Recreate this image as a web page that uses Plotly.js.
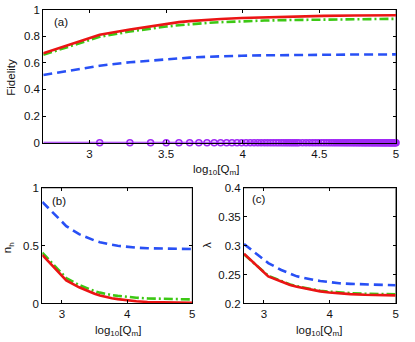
<!DOCTYPE html>
<html>
<head>
<meta charset="utf-8">
<script src="https://cdn.plot.ly/plotly-3.0.1.min.js"></script>
<style>
  html, body { margin: 0; padding: 0; background: #fff; }
  #chart { width: 415px; height: 342px; }
</style>
</head>
<body>
<div id="chart"></div>
<script>
// sample positions, log10[Qm]
var xs = [2.699, 3.067, 3.264, 3.399, 3.501, 3.584, 3.654, 3.767, 3.856, 3.993, 4.142, 4.3125, 4.53, 4.73, 5.0];

// (a) fidelity
var fidRed   = [0.672, 0.81, 0.85, 0.875, 0.893, 0.905, 0.913, 0.923, 0.929, 0.936, 0.942, 0.947, 0.952, 0.955, 0.957];
var fidGreen = [0.66, 0.795, 0.835, 0.858, 0.872, 0.882, 0.89, 0.899, 0.905, 0.912, 0.917, 0.921, 0.925, 0.928, 0.93];
var fidBlue  = [0.508, 0.578, 0.604, 0.618, 0.627, 0.634, 0.639, 0.645, 0.649, 0.653, 0.656, 0.659, 0.661, 0.662, 0.663];

// purple markers on zero line (first one sits under the y axis)
var purpleX = [3.067, 3.264, 3.399, 3.501, 3.584, 3.654, 3.714, 3.767, 3.814, 3.856, 3.895, 3.930, 3.963, 3.993,
  4.022, 4.049, 4.074, 4.098, 4.120, 4.142, 4.162, 4.182, 4.200, 4.218, 4.235, 4.252, 4.268, 4.283, 4.298, 4.3125,
  4.326, 4.340, 4.353, 4.366, 4.390, 4.413, 4.435, 4.456, 4.475, 4.494, 4.513, 4.530, 4.547, 4.563, 4.579, 4.594,
  4.608, 4.622, 4.636, 4.649, 4.662, 4.674, 4.686, 4.698, 4.710, 4.721, 4.732, 4.743, 4.753, 4.763, 4.773, 4.783,
  4.792, 4.801, 4.810, 4.819, 4.828, 4.837, 4.845, 4.853, 4.861, 4.869, 4.877, 4.885, 4.892, 4.900, 4.907, 4.914,
  4.921, 4.928, 4.934, 4.941, 4.948, 4.955, 4.961, 4.967, 4.973, 4.979, 4.985, 4.991, 4.997, 5.0];
var purpleY = purpleX.map(function () { return 0; });

// (b) n_h
var nhRed   = [0.42, 0.2, 0.14, 0.105, 0.085, 0.07, 0.06, 0.046, 0.038, 0.027, 0.019, 0.013, 0.009, 0.007, 0.006];
var nhGreen = [0.44, 0.22, 0.16, 0.127, 0.107, 0.094, 0.085, 0.073, 0.066, 0.057, 0.05, 0.044, 0.04, 0.037, 0.035];
var nhBlue  = [0.88, 0.67, 0.6, 0.565, 0.545, 0.531, 0.52, 0.508, 0.5, 0.49, 0.483, 0.478, 0.474, 0.472, 0.471];

// (c) lambda
var lamRed   = [0.286, 0.247, 0.238, 0.232, 0.229, 0.227, 0.225, 0.2225, 0.221, 0.219, 0.2175, 0.2163, 0.2152, 0.2145, 0.214];
var lamGreen = [0.285, 0.248, 0.239, 0.233, 0.23, 0.228, 0.226, 0.2235, 0.222, 0.2205, 0.219, 0.218, 0.217, 0.2165, 0.216];
var lamBlue  = [0.303, 0.27, 0.258, 0.251, 0.247, 0.245, 0.243, 0.2405, 0.239, 0.237, 0.235, 0.234, 0.233, 0.232, 0.2315];

var RED = 'rgb(235,20,20)', GREEN = 'rgb(60,200,20)', BLUE = 'rgb(40,80,245)', PURPLE = 'rgb(160,40,245)';
var W = 2.6;

function tr(x, y, color, dash, xa, ya) {
  return {x: x, y: y, xaxis: xa, yaxis: ya, mode: 'lines', type: 'scatter',
    line: {color: color, width: W, dash: dash}, hoverinfo: 'skip', showlegend: false};
}

var data = [
  {x: [2.699, 5], y: [0, 0], xaxis: 'x', yaxis: 'y', mode: 'lines', type: 'scatter',
   line: {color: PURPLE, width: 2}, showlegend: false, cliponaxis: false},
  {x: purpleX, y: purpleY, xaxis: 'x', yaxis: 'y', mode: 'markers', type: 'scatter',
   marker: {symbol: 'circle-open', size: 6, color: PURPLE, line: {width: 1.5}},
   showlegend: false, cliponaxis: false},
  tr(xs, fidBlue, BLUE, '9px,5px', 'x', 'y'),
  tr(xs, fidGreen, GREEN, '9px,3px,2px,3px', 'x', 'y'),
  tr(xs, fidRed, RED, 'solid', 'x', 'y'),
  tr(xs, nhBlue, BLUE, '9px,5px', 'x2', 'y2'),
  tr(xs, nhGreen, GREEN, '9px,3px,2px,3px', 'x2', 'y2'),
  tr(xs, nhRed, RED, 'solid', 'x2', 'y2'),
  tr(xs, lamBlue, BLUE, '9px,5px', 'x3', 'y3'),
  tr(xs, lamGreen, GREEN, '9px,3px,2px,3px', 'x3', 'y3'),
  tr(xs, lamRed, RED, 'solid', 'x3', 'y3')
];

function ax(domain, range, dtick, anchor) {
  return {domain: domain, range: range, dtick: dtick, tick0: 0, anchor: anchor,
    showgrid: false, zeroline: false, showline: true, linecolor: '#000', linewidth: 1,
    mirror: 'ticks', ticks: 'inside', ticklen: 3, tickcolor: '#000', tickwidth: 1,
    tickfont: {size: 11.5, color: '#111'}, fixedrange: true};
}

var xa = ax([0.1043, 0.9542], [2.699, 5], 0.5, 'y');
var ya = ax([0.5827, 0.9722], [0, 1], 0.2, 'x');
var xb = ax([0.1019, 0.4634], [2.699, 5], 1, 'y2');
var yb = ax([0.1126, 0.4503], [0, 1], 0.5, 'x2');
var xc = ax([0.588, 0.9535], [2.699, 5], 1, 'y3');
var yc = ax([0.1126, 0.4503], [0.2, 0.4], 0.05, 'x3');
yc.tick0 = 0.2;

// grey top and right box edges, like the reference
var shapes = [];
[['x', 'y'], ['x2', 'y2'], ['x3', 'y3']].forEach(function (p) {
  var base = {type: 'line', xref: p[0] + ' domain', yref: p[1] + ' domain', layer: 'below',
    line: {color: 'rgb(128,128,128)', width: 1.2}};
  shapes.push(Object.assign({x0: 0, x1: 1, y0: 1, y1: 1}, base));
  shapes.push(Object.assign({x0: 1, x1: 1, y0: 0, y1: 1}, base));
});

var xlab = 'log<sub>10</sub>[Q<sub>m</sub>]';
var af = {size: 11.5, color: '#111'};
function note(text, x, y, extra) {
  var a = {text: text, x: x, y: y, xref: 'paper', yref: 'paper', xanchor: 'center', yanchor: 'middle',
    showarrow: false, font: af};
  for (var k in extra) a[k] = extra[k];
  return a;
}
var annotations = [
  note('(a)', 0.147, 0.936),
  note('(b)', 0.142, 0.412),
  note('(c)', 0.624, 0.418),
  note(xlab, 0.52, 0.528, {yanchor: 'top'}),
  note(xlab, 0.284, 0.058, {yanchor: 'top'}),
  note(xlab, 0.769, 0.058, {yanchor: 'top'}),
  note('Fidelity', 0.026, 0.775, {textangle: -90}),
  note('n<sub>h</sub>', 0.02, 0.275, {textangle: -90}),
  note('λ', 0.499, 0.284, {textangle: -90})
];

var layout = {
  width: 415, height: 342,
  margin: {l: 0, r: 0, t: 0, b: 0},
  paper_bgcolor: '#fff', plot_bgcolor: '#fff',
  font: {family: 'Liberation Sans, Arial, sans-serif', size: 11.5, color: '#111'},
  showlegend: false,
  xaxis: xa, yaxis: ya, xaxis2: xb, yaxis2: yb, xaxis3: xc, yaxis3: yc,
  shapes: shapes,
  annotations: annotations
};

Plotly.newPlot('chart', data, layout, {displayModeBar: false, staticPlot: true});
</script>
</body>
</html>
